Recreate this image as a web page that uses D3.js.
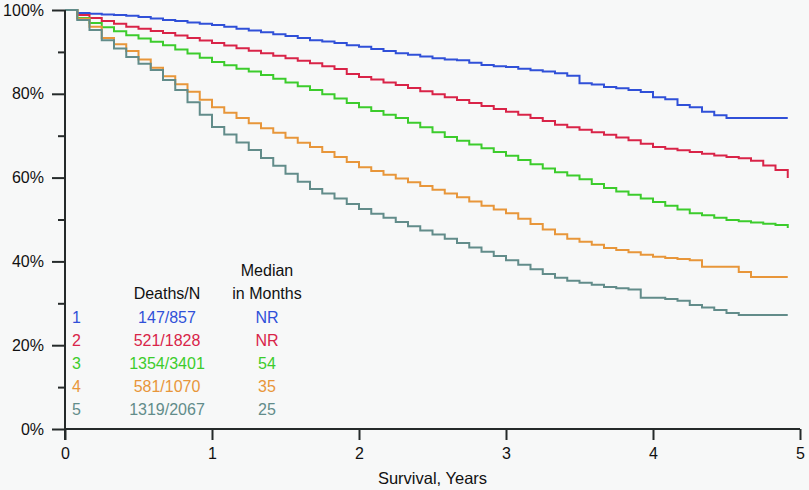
<!DOCTYPE html>
<html><head><meta charset="utf-8">
<script src="https://cdn.jsdelivr.net/npm/d3@7"></script>
<style>
html,body{margin:0;padding:0;background:#f7f8f8;}
svg{display:block;font-family:"Liberation Sans",Arial,sans-serif;}
</style></head>
<body>
<svg id="chart" width="809" height="490"></svg>
<script>
// Survival (%) at the start of each month, months 0..59
const months = d3.range(0, 60);
const group1 = [100,99.3,99.1,98.9,98.8,98.6,98.3,98.0,97.6,97.4,97.0,96.7,96.4,96.0,95.5,95.1,94.7,94.2,93.8,93.3,92.8,92.5,92.1,91.6,91.2,90.7,90.2,89.7,89.3,88.9,88.5,88.2,88.0,87.4,86.9,86.6,86.4,86.0,85.6,85.3,84.9,84.3,82.5,82.2,81.6,81.3,80.9,80.4,79.2,78.7,77.3,76.8,75.7,74.9,74.2,74.2,74.2,74.2,74.2,74.2];
const group2 = [100,98.8,98.1,97.4,96.7,96.0,95.5,95.0,94.5,93.9,93.3,92.7,92.1,91.5,90.9,90.3,89.7,89.1,88.5,87.9,87.3,86.6,85.9,84.7,84.0,83.4,82.7,82.1,81.4,80.6,79.9,79.2,78.5,77.8,77.1,76.4,75.7,75.0,74.2,73.5,72.6,72.0,71.4,70.8,70.2,69.6,68.9,68.1,67.3,66.9,66.5,66.1,65.7,65.3,64.9,64.6,64.0,62.9,61.8,59.9];
const group3 = [100,98.1,96.9,95.9,94.9,94.0,93.2,92.4,91.6,90.6,89.6,88.6,87.6,86.8,86.0,85.3,84.5,83.6,82.7,81.8,80.9,79.9,78.9,77.8,76.8,75.9,75.0,74.2,73.1,72.0,70.8,69.7,68.8,67.9,67.0,66.1,65.2,64.2,63.2,62.2,61.3,60.5,59.6,58.5,57.5,56.7,55.9,55.0,54.2,53.3,52.4,51.5,51.0,50.4,49.9,49.6,49.3,49.0,48.7,48.0];
const group4 = [100,97.9,96.0,93.3,91.8,90.2,88.2,86.2,84.2,82.3,80.5,78.6,76.8,75.5,74.2,73.0,71.8,70.7,69.5,68.3,67.3,66.1,64.9,63.7,62.5,61.6,60.7,59.8,58.9,58.0,57.1,56.2,55.3,54.3,53.3,52.4,51.5,50.2,48.9,47.6,46.5,45.4,44.7,44.0,43.2,42.7,42.2,41.6,41.1,40.8,40.6,40.3,38.7,38.7,38.7,37.5,36.3,36.3,36.3,36.3];
const group5 = [100,97.6,95.2,92.8,90.8,88.8,87.2,85.7,83.3,80.9,78.0,75.0,72.1,70.3,68.4,66.6,64.7,62.8,60.9,59.0,57.3,56.2,55.0,53.7,52.5,51.4,50.4,49.4,48.4,47.4,46.4,45.4,44.4,43.3,42.3,41.3,40.3,39.2,38.1,37.0,36.1,35.4,34.9,34.4,33.9,33.6,33.3,31.3,31.3,31.0,30.6,29.6,29.0,28.4,27.7,27.2,27.2,27.2,27.2,27.2];

const groupLabels = ["1","2","3","4","5"];
const deathsN = ["147/857","521/1828","1354/3401","581/1070","1319/2067"];
const medians = ["NR","NR","54","35","25"];
const colors = ["#3050d8","#d92448","#3ccc2c","#e8963a","#628c8a"];
const xTicks = [0,1,2,3,4,5];
const yMajor = [0,20,40,60,80,100];
const yMinor = [10,30,50,70,90];

const series = [group1,group2,group3,group4,group5];

const svg = d3.select("#chart");
const x = d3.scaleLinear().domain([0,5]).range([65,800]);
const y = d3.scaleLinear().domain([0,100]).range([429,10]);
const axisColor = "#252a2a";

// curves
const line = d3.line()
  .x((d,i)=>x(months[i]/12))
  .y(d=>y(d))
  .curve(d3.curveStepAfter);
series.forEach((s,k)=>{
  svg.append("path").datum(s)
    .attr("fill","none").attr("stroke",colors[k])
    .attr("stroke-width",2).attr("d",line);
});

// y axis
const yAxis = d3.axisLeft(y).tickValues(yMajor).tickFormat(d=>d+"%").tickSize(13).tickPadding(8);
const gy = svg.append("g").attr("transform","translate(65,0)").call(yAxis);
gy.select(".domain").attr("d",`M0,${y(100)}V${y(0)+11}`).attr("stroke",axisColor).attr("stroke-width",2);
gy.selectAll(".tick line").attr("stroke",axisColor).attr("stroke-width",2);
gy.selectAll(".tick text").attr("font-size",16).attr("fill","#111").attr("font-family","Liberation Sans, Arial, sans-serif");
const gyMinor = svg.append("g").attr("transform","translate(65,0)")
  .call(d3.axisLeft(y).tickValues(yMinor).tickSize(7).tickFormat(""));
gyMinor.select(".domain").remove();
gyMinor.selectAll(".tick line").attr("stroke",axisColor).attr("stroke-width",2);

// x axis
const xAxis = d3.axisBottom(x).tickValues(xTicks).tickFormat(d3.format("d")).tickSize(11).tickPadding(8);
const gx = svg.append("g").attr("transform",`translate(0,${y(0)})`).call(xAxis);
gx.select(".domain").attr("d",`M${x(0)},0H${x(5)}`).attr("stroke",axisColor).attr("stroke-width",2);
gx.selectAll(".tick line").attr("stroke",axisColor).attr("stroke-width",2);
gx.selectAll(".tick text").attr("font-size",16).attr("fill","#111").attr("font-family","Liberation Sans, Arial, sans-serif");

svg.append("text").attr("x",x(2.5)).attr("y",484).attr("text-anchor","middle")
  .attr("font-size",16.5).attr("fill","#111").text("Survival, Years");

// legend table
const colN = 167, colM = 267, colL = 72;
const rowY = [317,340,363,386,409];
svg.append("text").attr("x",colN).attr("y",293).attr("dy","0.35em").attr("text-anchor","middle")
  .attr("font-size",16).attr("fill","#111").text("Deaths/N");
svg.append("text").attr("x",colM).attr("y",270).attr("dy","0.35em").attr("text-anchor","middle")
  .attr("font-size",16).attr("fill","#111").text("Median");
svg.append("text").attr("x",colM).attr("y",293).attr("dy","0.35em").attr("text-anchor","middle")
  .attr("font-size",16).attr("fill","#111").text("in Months");
groupLabels.forEach((g,i)=>{
  svg.append("text").attr("x",colL).attr("y",rowY[i]).attr("dy","0.35em")
    .attr("font-size",16).attr("fill",colors[i]).text(g);
  svg.append("text").attr("x",colN).attr("y",rowY[i]).attr("dy","0.35em").attr("text-anchor","middle")
    .attr("font-size",16).attr("fill",colors[i]).text(deathsN[i]);
  svg.append("text").attr("x",colM).attr("y",rowY[i]).attr("dy","0.35em").attr("text-anchor","middle")
    .attr("font-size",16).attr("fill",colors[i]).text(medians[i]);
});
</script>
</body></html>
